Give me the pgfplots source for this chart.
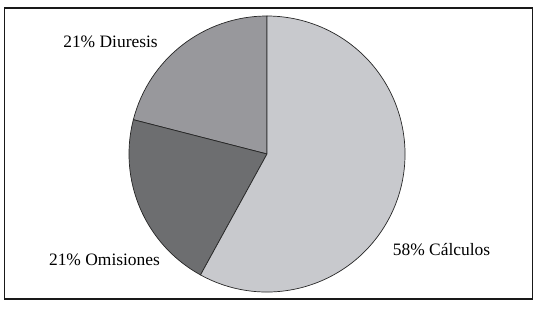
\documentclass[border=0pt]{standalone}
\usepackage{fontspec}
\setmainfont{Liberation Serif}
\usepackage{pgfplots}
\usepackage{pgfplotstable}
\pgfplotsset{compat=1.18}
\pgfplotstableread{
label pct
Diuresis 21
Omisiones 21
Calculos 58
}\piedata
\definecolor{cD}{HTML}{98989C}
\definecolor{cO}{HTML}{6D6E70}
\definecolor{cC}{HTML}{C8C9CD}
\newcommand{\pieslice}[2]{%
  \pgfplotstablegetelem{#1}{pct}\of\piedata
  \pgfmathsetmacro{\endang}{\start+3.6*\pgfplotsretval}%
  \edef\temp{\noexpand\filldraw[fill=#2, draw=black!85, line width=0.7bp] (axis cs:267,152) -- ++(\start:138bp) arc[start angle=\start, end angle=\endang, radius=138bp] -- cycle;}%
  \temp
  \xdef\start{\endang}%
}
\begin{document}
\begin{tikzpicture}
\begin{axis}[x=1bp, y=1bp, xmin=0, xmax=538, ymin=0, ymax=306, hide axis, clip=false]
\path[draw=white, line width=0pt] (axis cs:0,0) rectangle (axis cs:538,306);
\xdef\start{90}
\pieslice{0}{cD}
\pieslice{1}{cO}
\pieslice{2}{cC}
\draw[black!90, line width=1.2bp] (axis cs:4.5,7) rectangle (axis cs:532.5,298);
\node[font=\fontsize{17.5}{20}\selectfont] at (axis cs:110.5,264) {21\% Diuresis};
\node[font=\fontsize{17.5}{20}\selectfont] at (axis cs:104.5,46) {21\% Omisiones};
\node[font=\fontsize{17.5}{20}\selectfont] at (axis cs:441.5,56) {58\% Cálculos};
\end{axis}
\end{tikzpicture}
\end{document}
